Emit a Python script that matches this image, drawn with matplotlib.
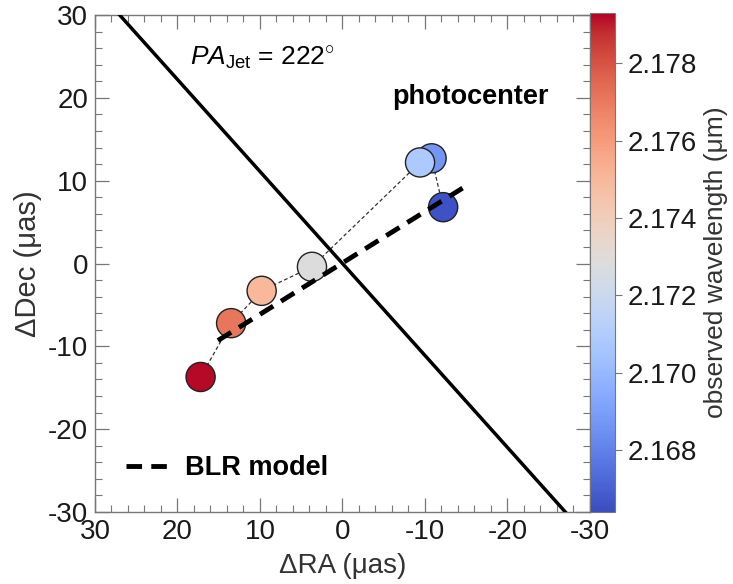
import numpy as np
import matplotlib.pyplot as plt
from matplotlib.ticker import MultipleLocator

plt.rcParams['font.family'] = ['Liberation Sans', 'DejaVu Sans']
plt.rcParams['mathtext.fontset'] = 'custom'
plt.rcParams['mathtext.rm'] = 'Liberation Sans'
plt.rcParams['mathtext.it'] = 'Liberation Sans:italic'
plt.rcParams['axes.unicode_minus'] = False

# photocenter offsets per spectral channel
ra = [17.2, 13.5, 9.8, 3.7, -9.4, -10.8, -12.2]
dec = [-13.7, -7.2, -3.3, -0.4, 12.2, 12.7, 6.8]
wavelength = [2.1792, 2.1771, 2.1750, 2.1729, 2.1708, 2.1687, 2.1666]

# BLR model photocenter track
blr_ra = [15.1, -15.2]
blr_dec = [-9.3, 9.5]

pa_jet = 222.0
wl_min, wl_max = 2.1664, 2.1793
cbar_ticks = [2.168, 2.170, 2.172, 2.174, 2.176, 2.178]

fig = plt.figure(figsize=(7.33, 5.84), dpi=100)
ax = fig.add_axes([0.1296, 0.1233, 0.6753, 0.851])
cax = fig.add_axes([0.8049, 0.1233, 0.0341, 0.8545])

# jet axis through the origin (PA east of north, RA increasing to the left)
t = np.array([-60.0, 60.0])
jet_ra = t * np.sin(np.radians(pa_jet))
jet_dec = t * np.cos(np.radians(pa_jet))
ax.plot(jet_ra, jet_dec, color='black', lw=2.5, zorder=4)

ax.plot(ra, dec, ls=(0, (3, 2)), color='#333333', lw=0.9, zorder=1)
sc = ax.scatter(ra[::-1], dec[::-1], c=wavelength[::-1], cmap='coolwarm',
                vmin=wl_min, vmax=wl_max, s=440, edgecolors='#222222',
                linewidths=1.0, zorder=2)
ax.plot(blr_ra, blr_dec, ls=(0, (3.2, 1.9)), color='black', lw=3.5,
        zorder=5, label='BLR model')

ax.text(18.5, 24.8, r'$PA_{\rm Jet}$ = 222$^{\circ}$', fontsize=19,
        va='center', ha='left')
ax.text(-15.5, 20.1, 'photocenter', fontsize=19.5, fontweight='bold',
        va='center', ha='center')

leg = ax.legend(loc='lower left', frameon=False, handlelength=1.75,
                handletextpad=0.45, bbox_to_anchor=(0.013, 0.013),
                prop={'size': 19.5, 'weight': 'bold'})

ax.set_xlim(30, -30)
ax.set_ylim(-30, 30)
ax.xaxis.set_major_locator(MultipleLocator(10))
ax.xaxis.set_minor_locator(MultipleLocator(2))
ax.yaxis.set_major_locator(MultipleLocator(10))
ax.yaxis.set_minor_locator(MultipleLocator(2))
ax.tick_params(which='both', direction='in', top=True, right=True,
               color='#777777', labelsize=20, pad=5, labelcolor='#1a1a1a')
ax.tick_params(which='major', length=10, width=0.9)
ax.tick_params(which='minor', length=5, width=0.8)
for s in ax.spines.values():
    s.set_color('#777777')
    s.set_linewidth(1.0)
ax.set_xlabel('ΔRA (μas)', fontsize=20, color='#333333', labelpad=6)
ax.set_ylabel('ΔDec (μas)', fontsize=21, color='#333333', labelpad=4)

cb = fig.colorbar(sc, cax=cax, ticks=cbar_ticks)
cb.ax.set_yticklabels(['%.3f' % v for v in cbar_ticks])
cb.ax.tick_params(labelsize=20, length=5, color='#777777', pad=4,
                  labelcolor='#1a1a1a')
cb.outline.set_edgecolor('#777777')
cb.set_label('observed wavelength (μm)', fontsize=19, color='#333333',
             labelpad=5)

fig.savefig('out.png', dpi=100)
